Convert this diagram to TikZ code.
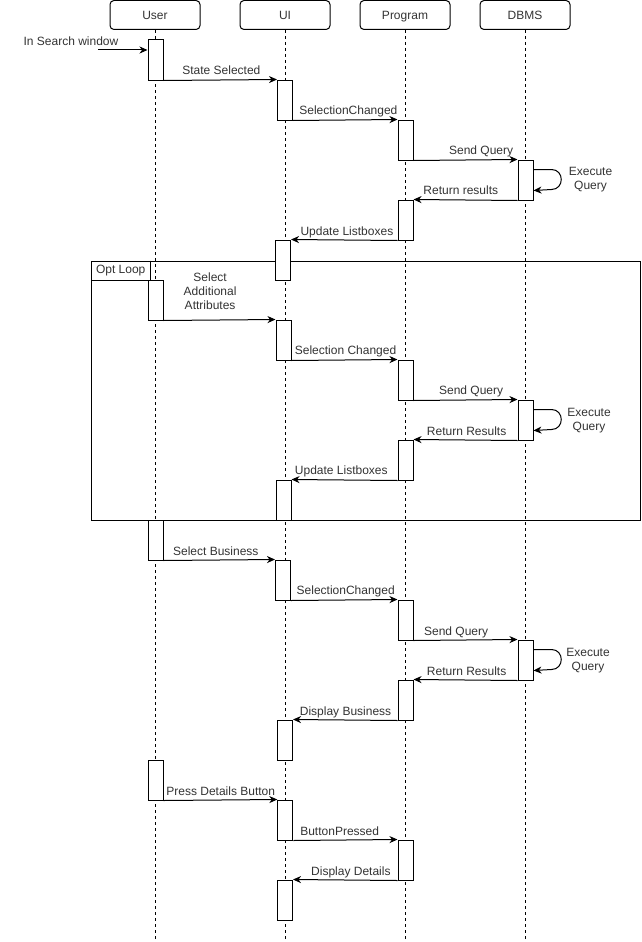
\documentclass[tikz,border=0pt]{standalone}
\usepackage{fontspec}
\setmainfont{Liberation Sans}
\usetikzlibrary{arrows.meta,calc}
\begin{document}
\begin{tikzpicture}[x=1pt,y=-1pt,
  every node/.style={font=\fontsize{12}{14}\selectfont, text=black!80},
  head/.style={draw, rounded corners=4pt, minimum width=90pt, minimum height=29pt, inner sep=0pt, line width=1pt, text height=9pt, text depth=0pt},
  life/.style={line width=1pt, dash pattern=on 3pt off 3pt},
  act/.style={draw, fill=white, minimum width=15pt, minimum height=40pt, inner sep=0pt, line width=1pt},
  msg/.style={line width=1pt, -{Stealth[length=8pt,width=7pt,inset=2.5pt]}},
  lbl/.style={anchor=base, yshift=5pt, inner sep=0pt},
]
\useasboundingbox (0,0) rectangle (641,942);
\coordinate (bot) at (0,942);
% headers
\node[head] (user) at (155,15) {User};
\node[head] (ui) at (285,15) {UI};
\node[head] (prog) at (405,15) {Program};
\node[head] (dbms) at (525,15) {DBMS};
% lifelines
\draw[life] (user.south) -- (user.south |- bot);
\draw[life] (ui.south) -- (ui.south |- bot);
\draw[life] (prog.south) -- (prog.south |- bot);
\draw[life] (dbms.south) -- (dbms.south |- bot);
% loop frame
\node[draw, line width=1pt, anchor=north west, minimum width=549.5pt, minimum height=259.5pt, inner sep=0pt] (frame) at (90.5,260.5) {};
\node[anchor=north west, minimum width=60pt, minimum height=20pt, inner sep=0pt] (optl) at (frame.north west) {Opt Loop};
\draw[line width=1pt] (optl.north east) -- (optl.south east) -- (optl.south west);
% activations
\node[act] (u1) at (155.5,60) {};
\node[act] (ui1) at (285,100) {};
\node[act] (p1) at (405.5,140) {};
\node[act] (d1) at (525.5,180) {};
\node[act] (p2) at (405.5,220) {};
\node[act] (ui2) at (283,260) {};
\node[act] (u2) at (155.5,300) {};
\node[act] (ui3) at (283.5,340) {};
\node[act] (p3) at (405.5,380) {};
\node[act] (d2) at (525.5,420) {};
\node[act] (p4) at (405.5,460) {};
\node[act] (ui4) at (283.5,500) {};
\node[act] (u3) at (155.5,540) {};
\node[act] (ui5) at (283,580) {};
\node[act] (p5) at (405.5,620) {};
\node[act] (d3) at (525.5,660) {};
\node[act] (p6) at (405.5,700) {};
\node[act] (ui6) at (285,740) {};
\node[act] (u4) at (155.5,780) {};
\node[act] (ui7) at (285.3,820) {};
\node[act] (p7) at (405.5,860) {};
\node[act] (ui8) at (285,900) {};
% start
\coordinate (ins) at (98,50);
\node (insl) at (71,41) {In Search window};
\draw[msg] (ins) -- (ins -| u1.west);
% messages
\draw[msg] (u1.south east) -- node[lbl,pos=.51]{State Selected} (ui1.north west);
\draw[msg] (ui1.south east) -- node[lbl,pos=.53]{SelectionChanged} (p1.north west);
\draw[msg] (p1.south east) -- node[lbl,pos=.65]{Send Query} (d1.north west);
\draw[msg] (d1.south west) -- node[lbl,pos=.545]{Return results} (p2.north east);
\draw[msg] (p2.south west) -- node[lbl,pos=.475]{Update Listboxes} (ui2.north east);
\coordinate (d1a) at ($(d1.north east)+(0,10)$);
\coordinate (d1b) at ($(d1.south east)+(0,-10)$);
\draw[msg] (d1a) -- ++(18,0) to[out=0,in=0,distance=13pt] ++(0,20) -- (d1b);
\node[align=center] (eq1) at ($(d1.center)+(65,0)$) {Execute\\Query};
% loop
\draw[msg] (u2.south east) -- node[pos=.416, align=center, inner sep=0pt, yshift=29pt]{Select\\Additional\\Attributes} (ui3.north west);
\draw[msg] (ui3.south east) -- node[lbl,pos=.51]{Selection Changed} (p3.north west);
\draw[msg] (p3.south east) -- node[lbl,pos=.554]{Send Query} (d2.north west);
\draw[msg] (d2.south west) -- node[lbl,pos=.489]{Return Results} (p4.north east);
\draw[msg] (p4.south west) -- node[lbl,pos=.53]{Update Listboxes} (ui4.north east);
\coordinate (d2a) at ($(d2.north east)+(0,10)$);
\coordinate (d2b) at ($(d2.south east)+(0,-10)$);
\draw[msg] (d2a) -- ++(18,0) to[out=0,in=0,distance=13pt] ++(0,20) -- (d2b);
\node[align=center] (eq2) at ($(d2.center)+(63.5,1)$) {Execute\\Query};
% after loop
\draw[msg] (u3.south east) -- node[lbl,pos=.469]{Select Business} (ui5.north west);
\draw[msg] (ui5.south east) -- node[lbl,pos=.514]{SelectionChanged} (p5.north west);
\draw[msg] (p5.south east) -- node[lbl,pos=.41]{Send Query} (d3.north west);
\draw[msg] (d3.south west) -- node[lbl,pos=.489]{Return Results} (p6.north east);
\draw[msg] (p6.south west) -- node[lbl,pos=.497]{Display Business} (ui6.north east);
\coordinate (d3a) at ($(d3.north east)+(0,10)$);
\coordinate (d3b) at ($(d3.south east)+(0,-10)$);
\draw[msg] (d3a) -- ++(18,0) to[out=0,in=0,distance=13pt] ++(0,20) -- (d3b);
\node[align=center] (eq3) at ($(d3.center)+(62.5,1)$) {Execute\\Query};
\draw[msg] (u4.south east) -- node[lbl,pos=.503]{Press Details Button} (ui7.north west);
\draw[msg] (ui7.south east) -- node[lbl,pos=.445]{ButtonPressed} (p7.north west);
\draw[msg] (p7.south west) -- node[lbl,pos=.446]{Display Details} (ui8.north east);
\end{tikzpicture}
\end{document}
